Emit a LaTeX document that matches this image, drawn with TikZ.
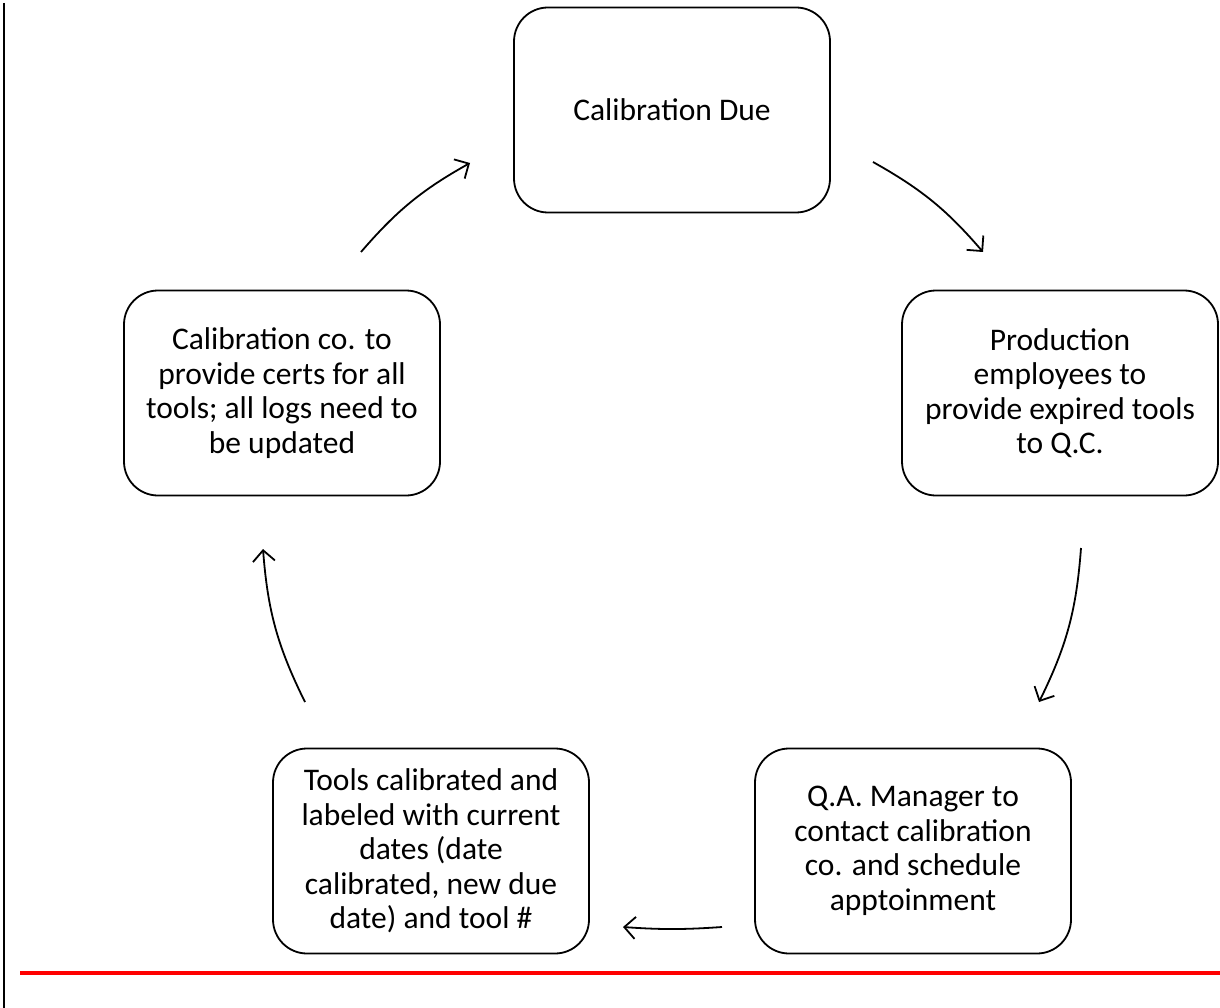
\documentclass[tikz,border=0pt]{standalone}
\usepackage{fontspec}
\setmainfont{Carlito}
\usetikzlibrary{arrows.meta}
\definecolor{rule}{HTML}{FF0000}

\begin{document}
\begin{tikzpicture}[x=1pt,y=-1pt,
  b/.style={draw,line width=1.8pt,rounded corners=34pt,minimum width=316pt,minimum height=205pt,inner sep=0pt,align=center,font=\fontsize{31.5}{34.5}\selectfont},
  c/.style={line width=1.8pt,-{Straight Barb[length=11pt,width=22pt]}}]
\useasboundingbox (0,0) rectangle (1220,1008);
\node[b] (due) at (672,110) {Calibration Due};
\node[b] (prod) at (1060,393) {Production\\employees to\\provide expired tools\\to Q.C.};
\node[b] (qa) at (913,851) {Q.A. Manager to\\contact calibration\\co. and schedule\\apptoinment};
\node[b] (tools) at (431,851) {Tools calibrated and\\labeled with current\\dates (date\\calibrated, new due\\date) and tool \#};
\node[b] (certs) at (282,393) {Calibration co. to\\provide certs for all\\tools; all logs need to\\be updated};
\coordinate (c1s) at (361,252); \coordinate (c1e) at (470,163);
\coordinate (c2s) at (873,162); \coordinate (c2e) at (983,252);
\coordinate (c3s) at (1081,548); \coordinate (c3e) at (1039,702);
\coordinate (c4s) at (722,927); \coordinate (c4e) at (623,927);
\coordinate (c5s) at (305,702); \coordinate (c5e) at (263,549);
\draw[c] (c1s) to[bend left=10] (c1e);
\draw[c] (c2s) to[bend left=10] (c2e);
\draw[c] (c3s) to[bend left=11] (c3e);
\draw[c] (c4s) to[bend left=4] (c4e);
\draw[c] (c5s) to[bend left=11] (c5e);
\coordinate (lt) at (4,3); \coordinate (lb) at (4,1008);
\draw[line width=2pt] (lt) -- (lb);
\coordinate (rl) at (20,973); \coordinate (rr) at (1220,973);
\draw[rule,line width=3.5pt] (rl) -- (rr);
\end{tikzpicture}
\end{document}
